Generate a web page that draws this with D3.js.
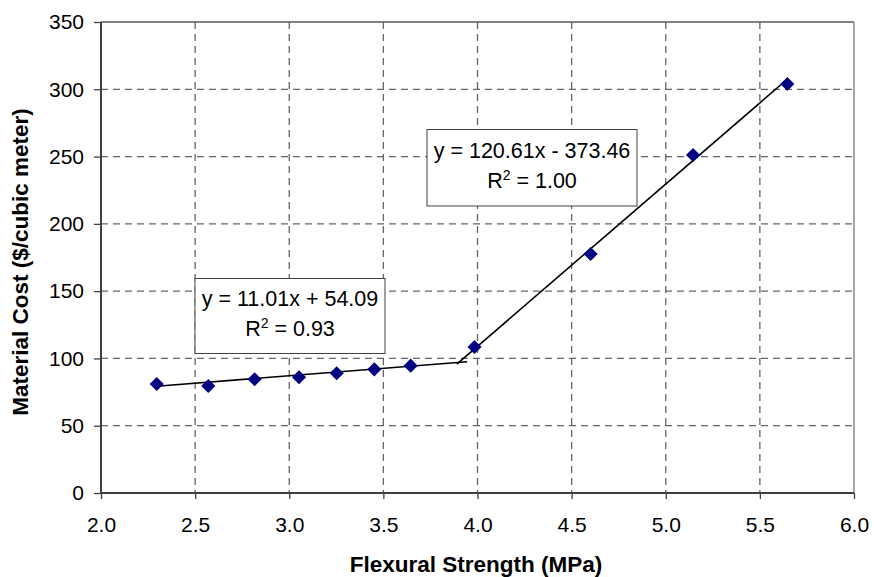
<!DOCTYPE html>
<html>
<head>
<meta charset="utf-8">
<script src="https://cdn.jsdelivr.net/npm/d3@7"></script>
<style>
  html, body { margin: 0; padding: 0; background: #fff; }
  svg { display: block; font-family: Arial, "Liberation Sans", sans-serif; }
</style>
</head>
<body>
<svg id="chart" width="874" height="577"></svg>
<script>
// ---- data ----
const strength = [2.296, 2.570, 2.816, 3.052, 3.252, 3.452, 3.645, 3.984, 4.601, 5.145, 5.646];
const cost     = [81.0, 79.5, 84.5, 86.0, 89.0, 91.9, 94.6, 108.5, 177.6, 251.2, 303.9];
const trendSlopes     = [11.01, 120.61];
const trendIntercepts = [54.09, -373.46];
const trendFrom       = [2.296, 3.89];
const trendTo         = [3.945, 5.646];
const eqLines   = ["y = 11.01x + 54.09", "y = 120.61x - 373.46"];
const r2Values  = ["0.93", "1.00"];
const xTicks = [2.0, 2.5, 3.0, 3.5, 4.0, 4.5, 5.0, 5.5, 6.0];
const yTicks = [0, 50, 100, 150, 200, 250, 300, 350];
const xTitle = "Flexural Strength (MPa)";
const yTitle = "Material Cost ($/cubic meter)";

// ---- layout ----
const L = 101, R = 854, T = 22, B = 493;
const svg = d3.select("#chart");
const x = d3.scaleLinear().domain([2, 6]).range([L, R]);
const y = d3.scaleLinear().domain([0, 350]).range([B, T]);

// grid
const grid = svg.append("g");
grid.selectAll("line.gx").data(xTicks.slice(1, -1)).join("line")
  .attr("x1", d => x(d)).attr("x2", d => x(d)).attr("y1", T).attr("y2", B)
  .attr("stroke", "#666").attr("stroke-width", 1.3).attr("stroke-dasharray", "7,5");
grid.selectAll("line.gy").data(yTicks.slice(1, -1)).join("line")
  .attr("x1", L).attr("x2", R).attr("y1", d => y(d)).attr("y2", d => y(d))
  .attr("stroke", "#666").attr("stroke-width", 1.3).attr("stroke-dasharray", "7,5");

// plot border top/right
svg.append("line").attr("x1", L).attr("x2", R).attr("y1", T).attr("y2", T)
  .attr("stroke", "#5a5a5a").attr("stroke-width", 1.5);
svg.append("line").attr("x1", R).attr("x2", R).attr("y1", T).attr("y2", B)
  .attr("stroke", "#8a8a8a").attr("stroke-width", 1.5);

// axes
const xAxis = svg.append("g").attr("transform", `translate(0,${B})`)
  .call(d3.axisBottom(x).tickValues(xTicks).tickFormat(d3.format(".1f")).tickSize(6).tickPadding(16));
const yAxis = svg.append("g").attr("transform", `translate(${L},0)`)
  .call(d3.axisLeft(y).tickValues(yTicks).tickFormat(d3.format("d")).tickSize(7).tickPadding(10));
[xAxis, yAxis].forEach(a => {
  a.select(".domain").attr("stroke", "#404040").attr("stroke-width", 2);
  a.selectAll(".tick line").attr("stroke", "#404040").attr("stroke-width", 1.3);
  a.selectAll(".tick text").attr("fill", "#000").style("font-size", "21px")
    .style("font-family", "Arial, 'Liberation Sans', sans-serif");
});
yAxis.select(".domain").attr("d", `M0,${T}V${B}`);
xAxis.select(".domain").attr("d", `M${L},0H${R}`);
xAxis.selectAll(".tick text").attr("dy", "0.71em").attr("y", 24);
yAxis.selectAll(".tick text").attr("x", -17);

// trendlines
const trends = trendSlopes.map((m, i) => ({m, b: trendIntercepts[i], x0: trendFrom[i], x1: trendTo[i]}));
svg.append("g").selectAll("line").data(trends).join("line")
  .attr("x1", d => x(d.x0)).attr("y1", d => y(d.m * d.x0 + d.b))
  .attr("x2", d => x(d.x1)).attr("y2", d => y(d.m * d.x1 + d.b))
  .attr("stroke", "#000").attr("stroke-width", 1.6);

// markers
const pts = strength.map((s, i) => ({s, c: cost[i]}));
svg.append("g").selectAll("path").data(pts).join("path")
  .attr("d", d3.symbol(d3.symbolSquare, 100))
  .attr("transform", d => `translate(${x(d.s)},${y(d.c)}) rotate(45)`)
  .attr("fill", "#000080");

// equation boxes
const boxes = [
  {x0: 195, y0: 278.5, x1: 385, y1: 353.5, b1: 305.5, b2: 335.5},
  {x0: 427, y0: 129.5, x1: 637, y1: 206, b1: 157.5, b2: 187.5}
];
boxes.forEach((bx, i) => {
  const g = svg.append("g");
  g.append("rect").attr("x", bx.x0).attr("y", bx.y0)
    .attr("width", bx.x1 - bx.x0).attr("height", bx.y1 - bx.y0)
    .attr("fill", "#fff").attr("stroke", "#404040").attr("stroke-width", 1);
  const cx = (bx.x0 + bx.x1) / 2;
  g.append("text").attr("x", cx).attr("y", bx.b1).attr("text-anchor", "middle")
    .style("font-size", "21.5px").text(eqLines[i]);
  const t = g.append("text").attr("x", cx).attr("y", bx.b2).attr("text-anchor", "middle")
    .style("font-size", "21.5px");
  t.append("tspan").text("R");
  t.append("tspan").attr("dy", -8).style("font-size", "14px").text("2");
  t.append("tspan").attr("dy", 8).text(" = " + r2Values[i]);
});

// axis titles
svg.append("text").attr("x", 476).attr("y", 572).attr("text-anchor", "middle")
  .style("font-size", "22.5px").style("font-weight", "bold").text(xTitle);
svg.append("text").attr("transform", "translate(28,262) rotate(-90)")
  .attr("text-anchor", "middle")
  .style("font-size", "22.5px").style("font-weight", "bold").text(yTitle);
</script>
</body>
</html>
